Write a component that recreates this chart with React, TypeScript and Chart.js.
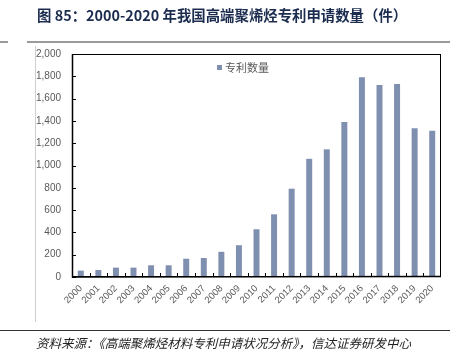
import React, { useEffect, useRef } from "react";
import { Chart, registerables } from "chart.js";

Chart.register(...registerables);

const years = ["2000","2001","2002","2003","2004","2005","2006","2007","2008","2009","2010","2011","2012","2013","2014","2015","2016","2017","2018","2019","2020"];
const patents = [57, 63, 84, 84, 105, 105, 164, 170, 226, 285, 428, 562, 792, 1060, 1145, 1390, 1791, 1722, 1731, 1334, 1312];
const seriesName = "专利数量";
const yMax = 2000;
const yStep = 200;

const titleText = "图 85：2000-2020 年我国高端聚烯烃专利申请数量（件）";
const sourceText = "资料来源：《高端聚烯烃材料专利申请状况分析》，信达证券研发中心";

const barColor = "#7f8fb0";
const labelColor = "#595959";

const framePlugin = {
  id: "frame",
  afterDraw(chart: any) {
    const { ctx, chartArea, scales } = chart;
    const { left, top, right, bottom } = chartArea;
    const x = scales.x;
    const y = scales.y;
    ctx.save();
    ctx.strokeStyle = "#000";
    ctx.lineWidth = 1;
    ctx.strokeRect(left + 0.5, top + 0.5, right - left - 1, bottom - top - 1);
    ctx.lineWidth = 1.5;
    ctx.beginPath();
    ctx.moveTo(left + 0.5, top);
    ctx.lineTo(left + 0.5, bottom);
    ctx.lineTo(right, bottom - 0.5);
    ctx.stroke();
    ctx.lineWidth = 1;
    ctx.beginPath();
    y.ticks.forEach((t: any) => {
      const py = Math.round(y.getPixelForValue(t.value)) + 0.5;
      ctx.moveTo(left, py);
      ctx.lineTo(left + 4, py);
    });
    const n = x.ticks.length;
    for (let i = 0; i < n - 1; i++) {
      const px = Math.round((x.getPixelForValue(i) + x.getPixelForValue(i + 1)) / 2) + 0.5;
      ctx.moveTo(px, bottom);
      ctx.lineTo(px, bottom - 4);
    }
    ctx.stroke();
    ctx.restore();
  },
};

export default function App() {
  const ref = useRef<HTMLCanvasElement | null>(null);
  useEffect(() => {
    if (!ref.current) return;
    const chart = new Chart(ref.current, {
      type: "bar",
      data: {
        labels: years,
        datasets: [
          {
            label: seriesName,
            data: patents,
            backgroundColor: barColor,
            borderWidth: 0,
            categoryPercentage: 0.34,
            barPercentage: 1,
          },
        ],
      },
      options: {
        responsive: false,
        animation: false,
        devicePixelRatio: 1,
        layout: { padding: { left: 0, right: 19, top: 54, bottom: 0 } },
        plugins: {
          legend: { display: false },
          tooltip: { enabled: false },
        },
        scales: {
          x: {
            grid: { display: false, drawTicks: false },
            border: { display: false },
            ticks: {
              color: labelColor,
              font: { family: "Liberation Sans", size: 9.5 },
              minRotation: 45,
              maxRotation: 45,
              autoSkip: false,
              padding: 6,
            },
            afterFit(scale: any) {
              scale.height = 81;
            },
          },
          y: {
            min: 0,
            max: yMax,
            grid: { display: false, drawTicks: false },
            border: { display: false },
            ticks: {
              stepSize: yStep,
              color: labelColor,
              font: { family: "Liberation Sans", size: 10 },
              padding: 11,
              callback: (v: any) => Number(v).toLocaleString("en-US"),
            },
            afterFit(scale: any) {
              scale.width = 72;
            },
          },
        },
      },
      plugins: [framePlugin],
    });
    return () => chart.destroy();
  }, []);

  return (
    <div style={{ position: "absolute", left: 0, top: 0, width: 460, height: 358, background: "#fff", overflow: "hidden" }}>
      <canvas ref={ref} width={460} height={358} style={{ position: "absolute", left: 0, top: 0 }} />
      <div
        style={{
          position: "absolute",
          left: 37,
          top: 5,
          fontFamily: "'Noto Sans CJK SC', 'Liberation Sans', sans-serif",
          fontWeight: 700,
          fontSize: 14.4,
          lineHeight: "20px",
          color: "#1b2c4f",
          whiteSpace: "nowrap",
        }}
      >
        {titleText}
      </div>
      <div style={{ position: "absolute", left: 0, top: 41, width: 8, height: 2, background: "#9a9a9a" }} />
      <div style={{ position: "absolute", left: 27, top: 41, width: 423, height: 2, background: "#9a9a9a" }} />
      <div style={{ position: "absolute", left: 35, top: 46, width: 1, height: 276, background: "#cfcfcf" }} />
      <div
        style={{
          position: "absolute",
          left: 217,
          top: 59,
          display: "flex",
          alignItems: "center",
          fontFamily: "'Noto Sans CJK SC', sans-serif",
          fontSize: 11,
          color: labelColor,
          whiteSpace: "nowrap",
        }}
      >
        <span style={{ display: "inline-block", width: 5, height: 5, background: barColor, marginRight: 3 }} />
        <span>{seriesName}</span>
      </div>
      <div style={{ position: "absolute", left: 0, top: 330, width: 450, height: 1, background: "#333" }} />
      <div
        style={{
          position: "absolute",
          left: 36,
          top: 334,
          fontFamily: "'Noto Sans CJK SC', sans-serif",
          fontStyle: "italic",
          fontSize: 12.5,
          lineHeight: "18px",
          color: "#222",
          whiteSpace: "nowrap",
        }}
      >
        {sourceText}
      </div>
    </div>
  );
}
